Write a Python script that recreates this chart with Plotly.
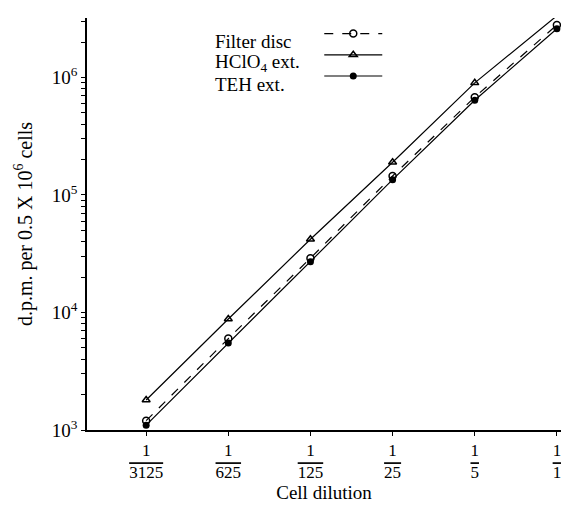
import plotly.graph_objects as go

# ---- data ----
dilution_labels = ["1/3125", "1/625", "1/125", "1/25", "1/5", "1/1"]
denominators = ["3125", "625", "125", "25", "5", "1"]
filter_disc = [1.2e3, 6.0e3, 2.9e4, 1.45e5, 6.8e5, 2.8e6]
hclo4_ext = [1.8e3, 8.8e3, 4.2e4, 1.9e5, 9.0e5, 3.35e6]
teh_ext = [1.1e3, 5.5e3, 2.7e4, 1.35e5, 6.4e5, 2.6e6]
legend_names = ["Filter disc", "HClO<sub>4</sub> ext.", "TEH ext."]
y_decades = [3, 4, 5, 6]

FONT = "Liberation Serif"
xpos = list(range(len(dilution_labels)))

fig = go.Figure()
fig.add_trace(go.Scatter(
    x=xpos, y=filter_disc, mode="lines+markers", name=" ",
    line=dict(color="black", width=1.2, dash="dash"),
    marker=dict(symbol="circle-open", size=7, color="black", line=dict(width=1.5)),
    cliponaxis=False))
fig.add_trace(go.Scatter(
    x=xpos, y=hclo4_ext, mode="lines+markers", name=" ",
    line=dict(color="black", width=1.2),
    marker=dict(symbol="triangle-up-open", size=7, color="black", line=dict(width=1.5)),
    cliponaxis=False))
fig.add_trace(go.Scatter(
    x=xpos, y=teh_ext, mode="lines+markers", name=" ",
    line=dict(color="black", width=1.2),
    marker=dict(symbol="circle", size=7, color="black"),
    cliponaxis=False))

major_vals = [10 ** d for d in y_decades]
major_text = [f"10<sup>{d}</sup>" for d in y_decades]
minor_vals = [m * 10 ** d for d in y_decades for m in range(2, 10) if m * 10 ** d <= 3.2e6]

xticktext = [f"1<br><span style='text-decoration:overline'>{d}</span>" for d in denominators]

fig.update_layout(
    width=561, height=507,
    margin=dict(l=87, r=0, t=18, b=77),
    paper_bgcolor="white", plot_bgcolor="white",
    font=dict(family=FONT, size=18, color="black"),
    showlegend=True,
    legend=dict(x=0.49, y=1.0, xanchor="left", yanchor="top",
                bgcolor="rgba(0,0,0,0)", font=dict(size=14),
                itemwidth=58, tracegroupgap=0),
    xaxis=dict(
        range=[-0.72, 5.05], tickvals=xpos, ticktext=xticktext,
        showline=True, linecolor="black", linewidth=1.5,
        ticks="outside", ticklen=4, tickcolor="black",
        showgrid=False, zeroline=False, automargin=False,
        ticklabeloverflow="allow",
        tickfont=dict(size=17),
        title=dict(text="Cell dilution", font=dict(size=19), standoff=0),
    ),
    yaxis=dict(
        type="log", range=[3, 6.506], tickvals=major_vals, ticktext=major_text,
        minor=dict(tickvals=minor_vals, ticks="outside", ticklen=4, tickcolor="black"),
        showline=True, linecolor="black", linewidth=1.5,
        ticks="outside", ticklen=4, tickcolor="black",
        showgrid=False, zeroline=False, automargin=False,
        tickfont=dict(size=19),
        title=dict(text="d.p.m. per 0.5 X 10<sup>6</sup> cells", font=dict(size=20), standoff=14),
    ),
)

legend_y = [0.944, 0.891, 0.838]
for name, yy in zip(legend_names, legend_y):
    fig.add_annotation(text=name, xref="paper", yref="paper", x=0.266, y=yy,
                       xanchor="left", yanchor="middle", showarrow=False,
                       font=dict(family=FONT, size=19, color="black"))

# remove the page's default body margin so the 561x507 figure fills the window
fig.write_html("out.html", config={"displayModeBar": False},
               post_script="document.body.style.margin='0';document.body.style.overflow='hidden';")
